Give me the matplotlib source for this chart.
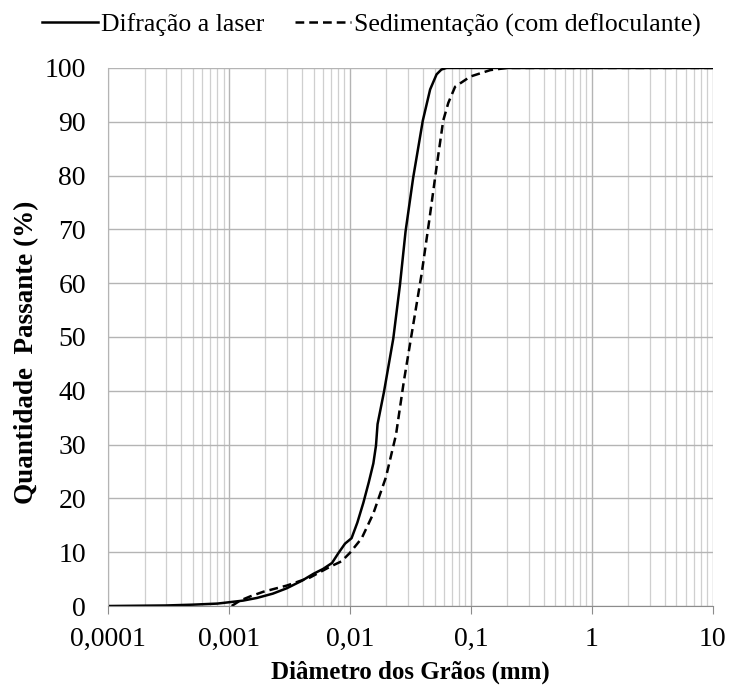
import numpy as np
import matplotlib.pyplot as plt
from matplotlib.ticker import FixedLocator, LogLocator, NullFormatter

plt.rcParams['font.family'] = ['Liberation Serif', 'DejaVu Serif']

# solid: laser diffraction
laser_d = [0.0001, 0.0003, 0.0005, 0.0008, 0.001, 0.0013, 0.0017, 0.0023, 0.0030, 0.0040,
           0.0050, 0.0060, 0.0071, 0.0080, 0.0091, 0.0103, 0.0115, 0.0129, 0.0143, 0.0156,
           0.0164, 0.0169, 0.0191, 0.0228, 0.0259, 0.0288, 0.0333, 0.0400, 0.0460, 0.0520,
           0.0570, 0.0630, 0.0800, 0.2, 1, 10]
laser_p = [0.0, 0.1, 0.25, 0.45, 0.7, 1.0, 1.5, 2.3, 3.3, 4.7,
           6.0, 6.9, 8.0, 9.8, 11.6, 12.6, 15.5, 19.2, 23.0, 26.5,
           29.8, 33.8, 39.8, 49.7, 59.7, 69.6, 79.6, 90.2, 96.0, 98.8,
           99.7, 100, 100, 100, 100, 100]

# dashed: sedimentation with deflocculant
sed_d = [0.00105, 0.00123, 0.0015, 0.00192, 0.0030, 0.00467, 0.00684, 0.0085, 0.0100, 0.0125,
         0.0156, 0.0198, 0.0240, 0.0279, 0.0330, 0.0391, 0.0452, 0.0520, 0.0590, 0.0650,
         0.0740, 0.0990, 0.145, 0.2, 1, 10]
sed_p = [0.0, 1.0, 1.8, 2.65, 3.8, 5.3, 7.3, 8.3, 9.9, 12.6,
         17.2, 23.9, 31.8, 41.8, 51.7, 61.7, 71.6, 81.6, 90.2, 93.5,
         96.5, 98.4, 99.6, 100, 100, 100]

xticks = [0.0001, 0.001, 0.01, 0.1, 1, 10]
xlabels = ['0,0001', '0,001', '0,01', '0,1', '1', '10']
yticks = list(range(0, 101, 10))

fig = plt.figure(figsize=(7.31, 6.86), dpi=100)
ax = fig.add_axes([0.148, 0.1166, 0.827, 0.7844])

ax.plot(laser_d, laser_p, color='black', lw=1.8, label='Difração a laser')
ax.plot(sed_d, sed_p, color='black', lw=1.8, ls=(0, (3.5, 2)), label='Sedimentação (com defloculante)')

ax.set_xscale('log')
ax.set_xlim(0.0001, 10)
ax.set_ylim(0, 100)
ax.xaxis.set_major_locator(FixedLocator(xticks))
ax.set_xticklabels(xlabels)
ax.xaxis.set_minor_locator(LogLocator(base=10, subs=np.arange(2, 10)))
ax.xaxis.set_minor_formatter(NullFormatter())
ax.set_yticks(yticks)

ax.grid(True, which='major', color='#b4b4b4', lw=1.0)
ax.grid(True, which='minor', axis='x', color='#cfcfcf', lw=0.9)
ax.set_axisbelow(True)

for s in ['top', 'right']:
    ax.spines[s].set_visible(False)
ax.spines['left'].set_color('#b4b4b4')
ax.spines['bottom'].set_color('#8c8c8c')

ax.tick_params(axis='both', which='major', labelsize=20, color='#8c8c8c')
ax.tick_params(axis='y', length=0, pad=16)
ax.tick_params(axis='x', which='major', length=6, direction='out', pad=9)
ax.tick_params(axis='x', which='minor', length=0)

ax.set_xlabel('Diâmetro dos Grãos (mm)', fontsize=18, fontweight='bold', labelpad=6)
ax.set_ylabel('Quantidade  Passante (%)', fontsize=19.5, fontweight='bold', labelpad=4)
ax.yaxis.label.set_y(0.472)

leg = ax.legend(loc='lower center', bbox_to_anchor=(0.435, 1.015), ncol=2, frameon=False,
                fontsize=18.5, handlelength=2.2, handletextpad=0.1, columnspacing=1.2)

fig.savefig('out.png', dpi=100)
